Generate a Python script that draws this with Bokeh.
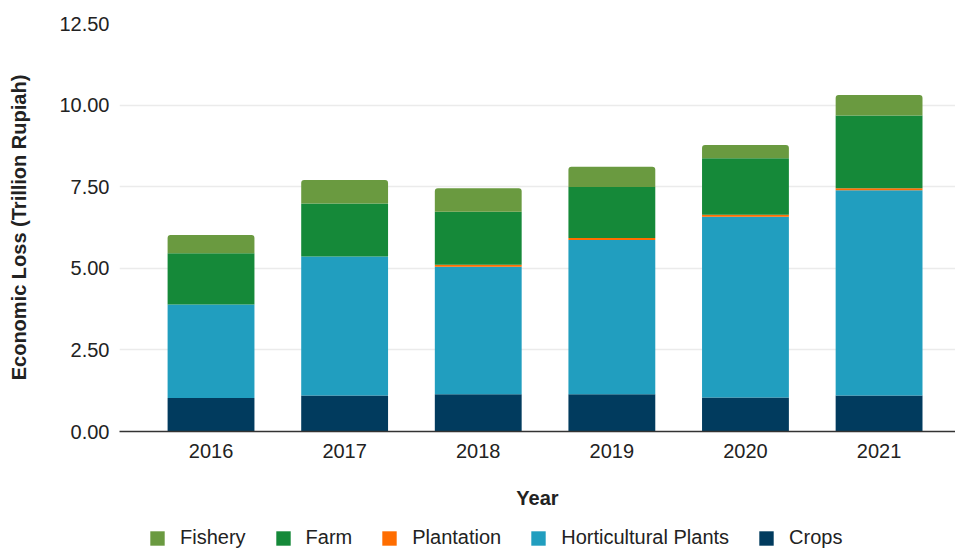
from bokeh.plotting import figure
from bokeh.layouts import column
from bokeh.models import Range1d, Legend, LegendItem, NumeralTickFormatter, FixedTicker
from bokeh.embed import file_html
from bokeh.resources import INLINE

years = ["2016", "2017", "2018", "2019", "2020", "2021"]
crops = [1.03, 1.10, 1.14, 1.14, 1.04, 1.10]
horticultural = [2.86, 4.26, 3.91, 4.73, 5.54, 6.29]
plantation = [0.003, 0.003, 0.06, 0.06, 0.06, 0.06]
farm = [1.57, 1.62, 1.62, 1.56, 1.73, 2.23]
fishery = [0.56, 0.72, 0.72, 0.62, 0.41, 0.63]

series = [
    ("Crops", crops, "#013B5E"),
    ("Horticultural Plants", horticultural, "#219EBF"),
    ("Plantation", plantation, "#FF6D00"),
    ("Farm", farm, "#158939"),
    ("Fishery", fishery, "#6A9A40"),
]
legend_order = ["Fishery", "Farm", "Plantation", "Horticultural Plants", "Crops"]
y_ticks = [0, 2.5, 5, 7.5, 10, 12.5]

FONT = "Liberation Sans"
TXT = "#222222"

xpos = list(range(len(years)))

p = figure(frame_width=836, frame_height=408, output_backend="svg", toolbar_location=None,
           x_range=Range1d(-0.685, 5.572), y_range=Range1d(0, 12.5))
p.min_border_left = 119
p.min_border_top = 23
p.min_border_right = 0
p.min_border_bottom = 90
p.outline_line_color = None

bottoms = [0.0] * len(years)
for i, (name, vals, color) in enumerate(series):
    tops = [b + v for b, v in zip(bottoms, vals)]
    p.vbar(x=xpos, bottom=bottoms, top=tops, width=0.65, fill_color=color,
           line_color=None, border_radius=(3, 3, 0, 0) if i == len(series) - 1 else 0)
    bottoms = tops

p.xaxis.ticker = FixedTicker(ticks=xpos)
p.xaxis.major_label_overrides = {i: y for i, y in zip(xpos, years)}

p.yaxis.ticker = FixedTicker(ticks=y_ticks)
p.yaxis.formatter = NumeralTickFormatter(format="0.00")
p.yaxis.axis_line_color = None
p.yaxis.major_tick_line_color = None
p.yaxis.minor_tick_line_color = None
p.yaxis.major_label_text_font = FONT
p.yaxis.major_label_text_font_size = "20px"
p.yaxis.major_label_text_color = TXT
p.yaxis.major_label_standoff = 4
p.yaxis.axis_label = "Economic Loss (Trillion Rupiah)"
p.yaxis.axis_label_text_font = FONT
p.yaxis.axis_label_text_font_style = "bold"
p.yaxis.axis_label_text_font_size = "20px"
p.yaxis.axis_label_text_color = TXT
p.yaxis.axis_label_standoff = 26

p.xaxis.axis_line_color = "#333333"
p.xaxis.axis_line_width = 1.5
p.xaxis.major_tick_line_color = None
p.xaxis.minor_tick_line_color = None
p.xaxis.major_label_text_font = FONT
p.xaxis.major_label_text_font_size = "20px"
p.xaxis.major_label_text_color = TXT
p.xaxis.major_label_standoff = 6
p.xaxis.axis_label = "Year"
p.xaxis.axis_label_text_font = FONT
p.xaxis.axis_label_text_font_style = "bold"
p.xaxis.axis_label_text_font_size = "20px"
p.xaxis.axis_label_text_color = TXT
p.xaxis.axis_label_standoff = 26

p.xgrid.grid_line_color = None
p.ygrid.grid_line_color = "#EBEBEB"
p.ygrid.grid_line_width = 1.5

# legend strip (placeholder glyphs lie outside the visible range)
colors = {name: color for name, _, color in series}
p2 = figure(width=955, height=28, output_backend="svg", toolbar_location=None,
            x_axis_type=None, y_axis_type=None, min_border=0,
            x_range=Range1d(0, 1), y_range=Range1d(0, 1))
p2.outline_line_color = None
p2.grid.grid_line_color = None
items = []
for name in legend_order:
    r = p2.vbar(x=[5], top=[1], width=0.1, fill_color=colors[name], line_color=None)
    items.append(LegendItem(label=name, renderers=[r]))
legend = Legend(items=items, orientation="horizontal", location=(29, 0),
                label_text_font=FONT, label_text_font_size="20px", label_text_color=TXT,
                glyph_width=18, glyph_height=18, label_standoff=14, spacing=28,
                border_line_color=None, background_fill_alpha=0, padding=0, margin=0)
p2.add_layout(legend, "center")

layout = column(p, p2, spacing=0)
open("out.html", "w").write(file_html(layout, INLINE))
